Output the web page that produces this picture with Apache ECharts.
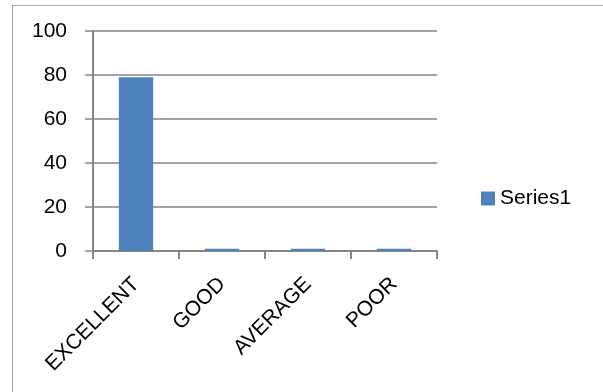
<!DOCTYPE html>
<html>
<head>
<meta charset="utf-8">
<script src="https://cdn.jsdelivr.net/npm/echarts@6/dist/echarts.min.js"></script>
<style>html,body{margin:0;padding:0;background:#fff;}#c{width:603px;height:392px;}</style>
</head>
<body>
<div id="c"></div>
<script>
var categories = ['EXCELLENT', 'GOOD', 'AVERAGE', 'POOR'];
var series1 = [79, 1, 1, 1];
var yTicks = [0, 20, 40, 60, 80, 100];

var chart = echarts.init(document.getElementById('c'), null, {renderer: 'canvas'});
var font = 'Liberation Sans, Arial, sans-serif';
chart.setOption({
  animation: false,
  backgroundColor: '#fff',
  graphic: [{
    type: 'rect', left: 10, top: 3,
    shape: {width: 592, height: 388},
    style: {fill: 'none', stroke: '#a6a6a6', lineWidth: 1}, silent: true, z: -1
  }],
  grid: {left: 93, right: 166, top: 31, bottom: 141, containLabel: false},
  legend: {
    left: 481, top: 188, padding: 0, icon: 'rect', itemWidth: 14, itemHeight: 14,
    textStyle: {fontFamily: font, fontSize: 21, color: '#000'},
    data: ['Series1']
  },
  xAxis: {
    type: 'category', data: categories,
    axisLine: {lineStyle: {color: '#868686', width: 2}},
    axisTick: {show: true, length: 8, lineStyle: {color: '#868686', width: 2}},
    axisLabel: {rotate: 45, margin: 30, fontFamily: font, fontSize: 21, color: '#000'},
    splitLine: {show: false}
  },
  yAxis: {
    type: 'value', min: yTicks[0], max: yTicks[yTicks.length - 1], interval: 20,
    axisLine: {show: true, lineStyle: {color: '#868686', width: 2}},
    axisTick: {show: true, length: 8, lineStyle: {color: '#868686', width: 1.5}},
    axisLabel: {margin: 26, fontFamily: font, fontSize: 21, color: '#000'},
    splitLine: {show: true, lineStyle: {color: '#868686', width: 1.5}}
  },
  series: [{
    name: 'Series1', type: 'bar', data: series1,
    barCategoryGap: '60%',
    itemStyle: {color: '#4F81BD'}
  }]
});
</script>
</body>
</html>
